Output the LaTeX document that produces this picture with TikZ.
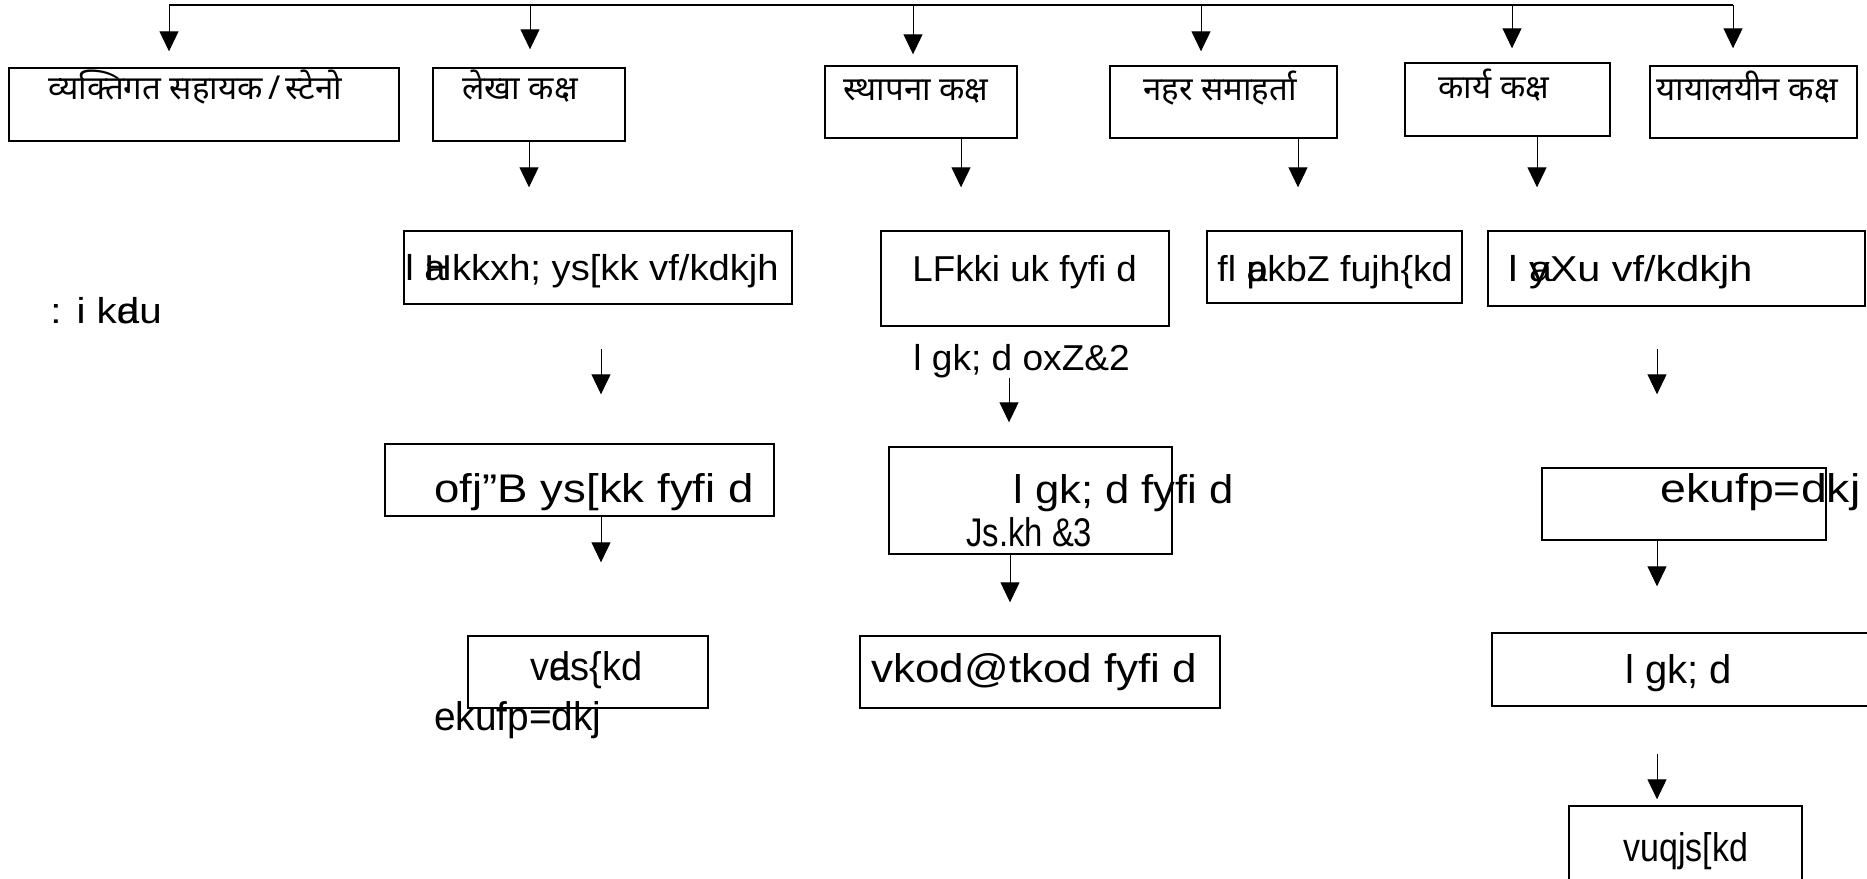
\documentclass[tikz,border=0pt]{standalone}
\usepackage{fontspec}
\setmainfont{Liberation Sans}
\newfontfamily\dev[Script=Devanagari]{Noto Sans}
\usetikzlibrary{arrows.meta,fit}
\tikzset{
  x=0.5pt, y=-0.5pt,
  box/.style={draw, line width=0.7pt, inner sep=0pt},
  dv/.style={font=\dev\fontsize{16.5}{18}\selectfont, inner sep=0pt, anchor=base west},
  tm/.style={font={\fontsize{18}{20}\selectfont\addfontfeatures{FakeStretch=#1}}, inner sep=0pt, anchor=base west},
  tm/.default=1,
  tb/.style={font={\fontsize{20}{22}\selectfont\addfontfeatures{FakeStretch=#1}}, inner sep=0pt, anchor=base west},
  tb/.default=1,
  conn/.style={line width=0.6pt},
  arr/.style={line width=0.5pt, -{Triangle[length=10pt,width=9.5pt]}}
}
\begin{document}
\begin{tikzpicture}
\clip (0,0) rectangle (1867,878);
% row 1 boxes
\node[box, fit={(9,68) (399,141)}] (b1) {};
\node[box, fit={(433,68) (625,141)}] (b2) {};
\node[box, fit={(825,66) (1017,138)}] (b3) {};
\node[box, fit={(1110,66) (1337,138)}] (b4) {};
\node[box, fit={(1405,63) (1610,136)}] (b5) {};
\node[box, fit={(1650,66) (1857,138)}] (b6) {};
\node[dv] (t1) at (48,99) {व्यक्तिगत सहायक\,/\,स्टेनो};
\node[dv] (t2) at (462,99) {लेखा कक्ष};
\node[dv] (t3) at (843,100) {स्थापना कक्ष};
\node[dv] (t4) at (1143,100) {नहर समाहर्ता};
\node[dv] (t5) at (1438,98) {कार्य कक्ष};
\node[dv] (t6) at (1656,100) {यायालयीन कक्ष};
% row 2
\node[box, fit={(404,231) (792,304)}] (r2a) {};
\node[box, fit={(881,231) (1169,326)}] (r2b) {};
\node[box, fit={(1207,231) (1462,303)}] (r2c) {};
\node[box, fit={(1488,231) (1865,306)}] (r2d) {};
\node[tm=1.06] (u1) at (405,280) {l \rlap{a}Hkkxh;  ys[kk vf/kdkjh};
\node[tm=1.12] (u0) at (50,323) {: i k\rlap{a}du};
\node[tm=1.02] (u2) at (912,281) {LFkki uk fyfi d};
\node[tm=1.03] (u2b) at (913,370) {l gk; d oxZ\&2};
\node[tm=1.04] (u3) at (1217,281) {fl \rlap{a}pkbZ fujh\{kd};
\node[tm=1.15] (u4) at (1508,281) {l \rlap{a}yXu vf/kdkjh};
% row 3
\node[box, fit={(385,444) (774,516)}] (r3a) {};
\node[box, fit={(889,447) (1172,554)}] (r3b) {};
\node[box, fit={(1542,468) (1826,540)}] (r3c) {};
\node[tb=1.14] (v1) at (434,502) {ofj"B ys[kk fyfi d};
\node[tb=1.09] (v2) at (1013,503) {l gk; d fyfi d};
\node[tb=0.82] (v2b) at (966,546) {Js.kh \&3};
\node[tb=1.16] (v3) at (1660,502) {ekufp=dkj};
% row 4
\node[box, fit={(468,636) (708,708)}] (r4a) {};
\node[box, fit={(860,636) (1220,708)}] (r4b) {};
\node[box, fit={(1492,633) (1890,706)}] (r4c) {};
\node[tb=0.95] (w1) at (530,680) {v\rlap{a}ds\{kd};
\node[tb=0.97] (w1b) at (434,730) {ekufp=dkj};
\node[tb] (w2) at (871,682) {\addfontfeatures{FakeStretch=1.1}vkod@tkod fyfi d};
\node[tb] (w3) at (1625,683) {l gk; d};
% row 5
\node[box, fit={(1569,806) (1802,890)}] (r5) {};
\node[tb=0.85] (x1) at (1623,861) {vuqjs[kd};
% top bus
\coordinate (tl) at (169,5);
\coordinate (j2) at (530,5);
\coordinate (j3) at (913,5);
\coordinate (j4) at (1201,5);
\coordinate (j5) at (1512,5);
\coordinate (tr) at (1733,5);
\draw[conn] (tl) -- (tr);
\draw[arr, shorten >=8pt] (tl) -- (tl |- b1.north);
\draw[arr, shorten >=9pt] (j2) -- (j2 |- b2.north);
\draw[arr, shorten >=5.5pt] (j3) -- (j3 |- b3.north);
\draw[arr, shorten >=7pt] (j4) -- (j4 |- b4.north);
\draw[arr, shorten >=7pt] (j5) -- (j5 |- b5.north);
\draw[arr, shorten >=8.5pt] (tr) -- (tr |- b6.north);
% row 1 -> 2
\draw[arr, shorten >=21.5pt] (b2.south) -- (b2.south |- r2a.north);
\draw[arr, shorten >=21.5pt] ([xshift=20pt]b3.south) -- ([xshift=20pt]b3.south |- r2b.north);
\draw[arr, shorten >=21.5pt] ([xshift=37.25pt]b4.south) -- ([xshift=37.25pt]b4.south |- r2c.north);
\draw[arr, shorten >=21.5pt] ([xshift=14.75pt]b5.south) -- ([xshift=14.75pt]b5.south |- r2d.north);
% row 2 -> 3
\draw[arr, shorten <=22pt, shorten >=24.5pt] ([xshift=1.5pt]r2a.south) -- ([xshift=1.5pt]r2a.south |- r3a.north);
\draw[arr, shorten <=25.5pt, shorten >=12pt] ([xshift=-8pt]r2b.south) -- ([xshift=-8pt]r2b.south |- r3b.north);
\draw[arr, shorten <=21pt, shorten >=36.5pt] ([xshift=-9.75pt]r2d.south) -- ([xshift=-9.75pt]r2d.south |- r3c.north);
% row 3 -> 4
\draw[arr, shorten >=36.5pt] ([xshift=10.75pt]r3a.south) -- ([xshift=10.75pt]r3a.south |- r4a.north);
\draw[arr, shorten >=16.5pt] ([xshift=-10.25pt]r3b.south) -- ([xshift=-10.25pt]r3b.south |- r4b.north);
\draw[arr, shorten >=23pt] ([xshift=-13.5pt]r3c.south) -- ([xshift=-13.5pt]r3c.south |- r4c.north);
% row 4 -> 5
\draw[arr, shorten <=23.5pt, shorten >=3pt] ([xshift=-17pt]r4c.south) -- ([xshift=-17pt]r4c.south |- r5.north);
\end{tikzpicture}
\end{document}
